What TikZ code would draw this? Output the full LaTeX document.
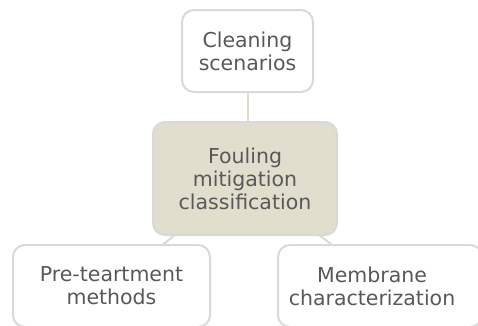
\documentclass[tikz,border=0pt]{standalone}
\usepackage{fontspec}
\setmainfont{DejaVu Sans}
\usetikzlibrary{backgrounds}
\begin{document}
\definecolor{boxline}{HTML}{D9D9D9}
\definecolor{linkline}{HTML}{DEDBC7}
\definecolor{hubfill}{HTML}{E1DECD}
\definecolor{txt}{HTML}{595959}
\begin{tikzpicture}[x=1pt,y=-1pt,
  card/.style={draw=boxline, line width=2pt, rounded corners=12pt, fill=white,
    text=txt, align=center, font=\fontsize{20.5}{23}\selectfont, inner sep=0pt},
  link/.style={draw=linkline, line width=2pt}]
\useasboundingbox (0,0) rectangle (478,325);
\clip (0,0) rectangle (478,325);
% hub and branches
\node[card, fill=hubfill, minimum width=184pt, minimum height=113pt] (hub) at (245,178.5)
  {Fouling\\mitigation\\classification};
\node[card, minimum width=131pt, minimum height=82pt] (clean) at (247.5,51)
  {Cleaning\\scenarios};
\node[card, minimum width=197pt, minimum height=82pt] (pre) at (111.5,286)
  {Pre-teartment\\methods};
\node[card, minimum width=204pt, minimum height=82pt, text width=204pt] (mem) at (380,286)
  {\hspace*{-16pt}Membrane\\\hspace*{-16pt}characterization};
\coordinate (memc) at (386,286);
% connectors run centre to centre, behind the boxes
\begin{scope}[on background layer]
  \draw[link] (clean.center) -- (clean.center |- hub.center);
  \draw[link] (hub.center) -- (pre.center);
  \draw[link] (hub.center) -- (memc);
\end{scope}
\end{tikzpicture}
\end{document}
